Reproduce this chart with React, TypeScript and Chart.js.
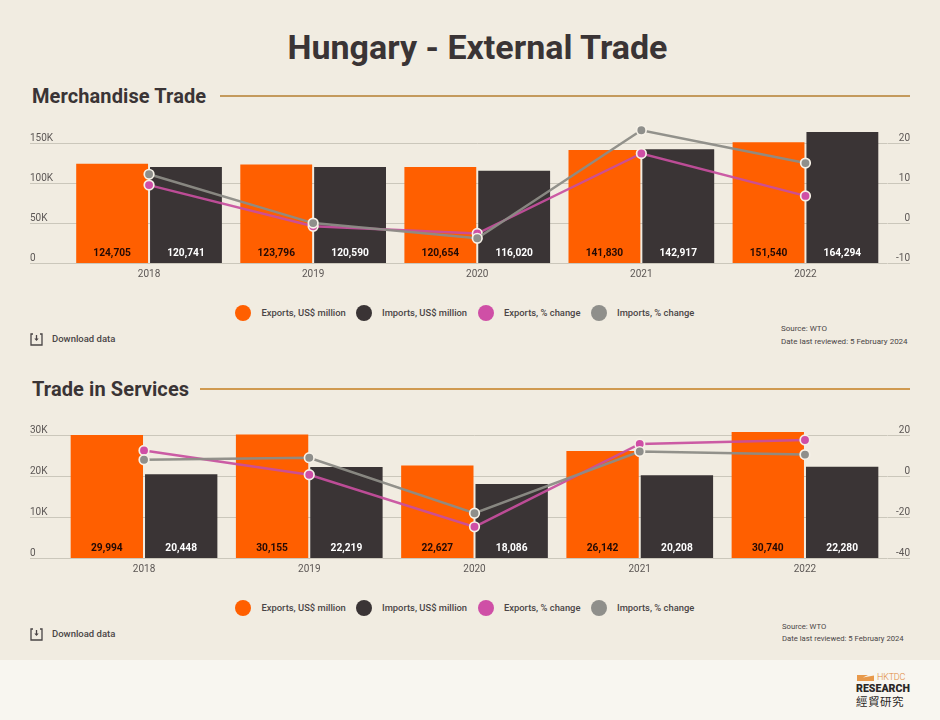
import React, { useEffect, useRef } from "react";
import { Chart, registerables } from "chart.js";

Chart.register(...registerables);

const years = ["2018", "2019", "2020", "2021", "2022"];

const seriesNames = ["Exports, US$ million", "Imports, US$ million", "Exports, % change", "Imports, % change"];

const merchExports = [124705, 123796, 120654, 141830, 151540];
const merchImports = [120741, 120590, 116020, 142917, 164294];
const merchExportsPct = [9.6, -0.7, -2.5, 17.5, 6.9];
const merchImportsPct = [12.3, 0.1, -3.7, 23.3, 15.1];

const servExports = [29994, 30155, 22627, 26142, 30740];
const servImports = [20448, 22219, 18086, 20208, 22280];
const servExportsPct = [12.5, 0.7, -24.6, 15.7, 17.6];
const servImportsPct = [8, 9, -18, 12, 10.5];

const merchLeftTicks = [0, 50000, 100000, 150000];
const merchRightTicks = [-10, 0, 10, 20];
const servLeftTicks = [0, 10000, 20000, 30000];
const servRightTicks = [-40, -20, 0, 20];

const FONT = "Roboto, sans-serif";
const ORANGE = "#FF5F00";
const DARK = "#3A3435";
const PINK = "#CF4FA6";
const GREY = "#8F8F8B";
const BG = "#F1ECE1";
const GRID = "#CBC7BB";
const TICK = "#5C5755";
const TEXT = "#3A3435";
const swatches = [ORANGE, DARK, PINK, GREY];

const barLabels = {
  id: "barLabels",
  afterDatasetsDraw(chart: any) {
    const ctx = chart.ctx;
    ctx.save();
    ctx.font = `700 10.2px ${FONT}`;
    ctx.textAlign = "center";
    ctx.textBaseline = "middle";
    [0, 1].forEach((d) => {
      const meta = chart.getDatasetMeta(d);
      ctx.fillStyle = d === 0 ? "#230A05" : "#FFFFFF";
      meta.data.forEach((bar: any, i: number) => {
        const v = chart.data.datasets[d].data[i];
        ctx.fillText(Number(v).toLocaleString("en-US"), bar.x, bar.base - 9.5);
      });
    });
    ctx.restore();
  },
};

type ChartProps = {
  top: number;
  height: number;
  paddingTop: number;
  xHeight: number;
  leftWidth: number;
  rightWidth: number;
  exportsV: number[];
  importsV: number[];
  exportsPct: number[];
  importsPct: number[];
  leftMax: number;
  rightMin: number;
  rightMax: number;
  leftTicks: number[];
  rightTicks: number[];
};

function ComboChart(p: ChartProps) {
  const ref = useRef<HTMLCanvasElement | null>(null);
  useEffect(() => {
    const lineCommon = {
      type: "line" as const,
      yAxisID: "yR",
      borderWidth: 2.5,
      pointRadius: 4.8,
      pointHoverRadius: 4.8,
      pointBorderWidth: 1.7,
      pointBorderColor: "#F6F1E7",
      tension: 0,
    };
    const chart = new Chart(ref.current as HTMLCanvasElement, {
      type: "bar",
      data: {
        labels: years,
        datasets: [
          { type: "bar", label: seriesNames[0], data: p.exportsV, backgroundColor: ORANGE, yAxisID: "yL", order: 3, categoryPercentage: 0.9, barPercentage: 0.973 },
          { type: "bar", label: seriesNames[1], data: p.importsV, backgroundColor: DARK, yAxisID: "yL", order: 3, categoryPercentage: 0.9, barPercentage: 0.973 },
          { ...lineCommon, order: 1, label: seriesNames[2], data: p.exportsPct, borderColor: "rgba(200,78,158,0.92)", pointBackgroundColor: PINK },
          { ...lineCommon, order: 0, label: seriesNames[3], data: p.importsPct, borderColor: "rgba(140,140,134,0.95)", pointBackgroundColor: GREY },
        ] as any,
      },
      options: {
        responsive: false,
        animation: false,
        layout: { padding: { top: p.paddingTop, left: 0, right: 0, bottom: 0 } },
        plugins: { legend: { display: false }, tooltip: { enabled: false } },
        scales: {
          x: {
            offset: true,
            grid: { display: false, tickLength: 0 },
            border: { display: false },
            ticks: { color: TICK, font: { family: FONT, size: 10 }, padding: 5, maxRotation: 0 },
            afterFit(s: any) {
              s.height = p.xHeight;
            },
          },
          yL: {
            position: "left",
            min: 0,
            max: p.leftMax,
            border: { display: false },
            grid: { color: GRID, lineWidth: 1, tickLength: p.leftWidth, tickColor: GRID, drawTicks: true },
            afterBuildTicks(s: any) {
              s.ticks = p.leftTicks.map((value) => ({ value }));
            },
            afterFit(s: any) {
              s.width = p.leftWidth;
            },
            ticks: {
              color: TICK,
              font: { family: FONT, size: 10 },
              crossAlign: "far",
              labelOffset: -5,
              padding: 0,
              callback: (v: any) => (v === 0 ? "0" : `${Number(v) / 1000}K`),
            },
          },
          yR: {
            position: "right",
            min: p.rightMin,
            max: p.rightMax,
            border: { display: false },
            grid: { drawOnChartArea: false, tickLength: p.rightWidth, tickColor: GRID, color: GRID },
            afterBuildTicks(s: any) {
              s.ticks = p.rightTicks.map((value) => ({ value }));
            },
            afterFit(s: any) {
              s.width = p.rightWidth;
            },
            ticks: {
              color: TICK,
              font: { family: FONT, size: 10 },
              crossAlign: "far",
              labelOffset: -5,
              padding: 0,
            },
          },
        },
      } as any,
      plugins: [barLabels],
    });
    return () => chart.destroy();
  }, []);
  return (
    <canvas
      ref={ref}
      width={880}
      height={p.height}
      style={{ position: "absolute", left: 30, top: p.top, width: 880, height: p.height, display: "block" }}
    />
  );
}

const abs = (left: number, top: number, extra: React.CSSProperties = {}): React.CSSProperties => ({
  position: "absolute",
  left,
  top,
  whiteSpace: "nowrap",
  fontFamily: FONT,
  color: TEXT,
  ...extra,
});

function Section({ title, y, lineLeft, lineColor }: { title: string; y: number; lineLeft: number; lineColor: string }) {
  return (
    <>
      <div style={abs(32, y - 13, { fontSize: 20, fontWeight: 700, lineHeight: "26px", letterSpacing: 0.1 })}>{title}</div>
      <div style={{ position: "absolute", left: lineLeft, top: y - 1, width: 910 - lineLeft, height: 2, background: lineColor }} />
    </>
  );
}

const legendCircles = [243, 364, 486, 599];
const legendTexts = [261.5, 382, 504, 617];

function Legend({ y }: { y: number }) {
  return (
    <>
      {seriesNames.map((n, i) => (
        <React.Fragment key={n}>
          <div style={{ position: "absolute", left: legendCircles[i] - 8, top: y - 8, width: 16, height: 16, borderRadius: 8, background: swatches[i] }} />
          <div style={abs(legendTexts[i], y - 7, { fontSize: 9.4, fontWeight: 500, lineHeight: "14px", color: "#4A4546" })}>{n}</div>
        </React.Fragment>
      ))}
    </>
  );
}

function Download({ y }: { y: number }) {
  return (
    <>
      <svg style={{ position: "absolute", left: 30, top: y - 6 }} width="13" height="13" viewBox="0 0 13 13" fill="none">
        <path d="M3 1H1V12H12V1H10" stroke="#4A4546" strokeWidth="1.3" />
        <path d="M6.5 2V7" stroke="#4A4546" strokeWidth="1.3" />
        <path d="M4.3 5.5L6.5 8L8.7 5.5Z" fill="#4A4546" />
      </svg>
      <div style={abs(52, y - 7, { fontSize: 9.5, fontWeight: 500, lineHeight: "14px", color: "#4A4546" })}>Download data</div>
    </>
  );
}

function Source({ left, y1, y2, size }: { left: number; y1: number; y2: number; size: number }) {
  const st = { fontSize: size, lineHeight: "12px", fontWeight: 400, color: "#4A4546" };
  return (
    <>
      <div style={abs(left, y1 - 6, st)}>Source: WTO</div>
      <div style={abs(left, y2 - 6, st)}>Date last reviewed: 5 February 2024</div>
    </>
  );
}

export default function App() {
  return (
    <div style={{ position: "absolute", left: 0, top: 0, width: 940, height: 720, background: BG, overflow: "hidden" }}>
      <div style={abs(0, 25, { width: 955, textAlign: "center", fontSize: 34, fontWeight: 700, lineHeight: "44px" })}>Hungary - External Trade</div>

      <Section title="Merchandise Trade" y={96} lineLeft={220} lineColor="#C49A5C" />
      <ComboChart
        top={105}
        height={185}
        paddingTop={14.5}
        xHeight={26.5}
        leftWidth={37}
        rightWidth={22.5}
        exportsV={merchExports}
        importsV={merchImports}
        exportsPct={merchExportsPct}
        importsPct={merchImportsPct}
        leftMax={180000}
        rightMin={-10}
        rightMax={26}
        leftTicks={merchLeftTicks}
        rightTicks={merchRightTicks}
      />
      <Legend y={313} />
      <Download y={338.5} />
      <Source left={781} y1={329} y2={342} size={8} />

      <Section title="Trade in Services" y={389} lineLeft={200} lineColor="#D09A50" />
      <ComboChart
        top={400}
        height={185}
        paddingTop={14.5}
        xHeight={26.5}
        leftWidth={31.4}
        rightWidth={22.4}
        exportsV={servExports}
        importsV={servImports}
        exportsPct={servExportsPct}
        importsPct={servImportsPct}
        leftMax={35000}
        rightMin={-40}
        rightMax={30}
        leftTicks={servLeftTicks}
        rightTicks={servRightTicks}
      />
      <Legend y={608} />
      <Download y={633.5} />
      <Source left={782} y1={627} y2={639} size={7.7} />

      <div style={{ position: "absolute", left: 0, top: 660, width: 940, height: 60, background: "#F8F6F0" }} />
      <svg style={{ position: "absolute", left: 856, top: 674 }} width="20" height="8" viewBox="0 0 20 8">
        <path d="M1 1H12L7 3.5L18 1.5V7H1Z" fill="#E8994A" />
      </svg>
      <div style={abs(877, 672, { fontSize: 9, lineHeight: "11px", fontWeight: 300, color: "#E0893A", letterSpacing: -0.2 })}>HKTDC</div>
      <div style={abs(856, 682, { fontSize: 10.6, lineHeight: "13px", fontWeight: 900, color: "#2B2726" })}>RESEARCH</div>
      <div style={abs(856, 694, { fontSize: 11.5, lineHeight: "14px", fontWeight: 400, color: "#2B2726", fontFamily: '"Noto Sans CJK TC", sans-serif', letterSpacing: 0.5 })}>經貿研究</div>
    </div>
  );
}
